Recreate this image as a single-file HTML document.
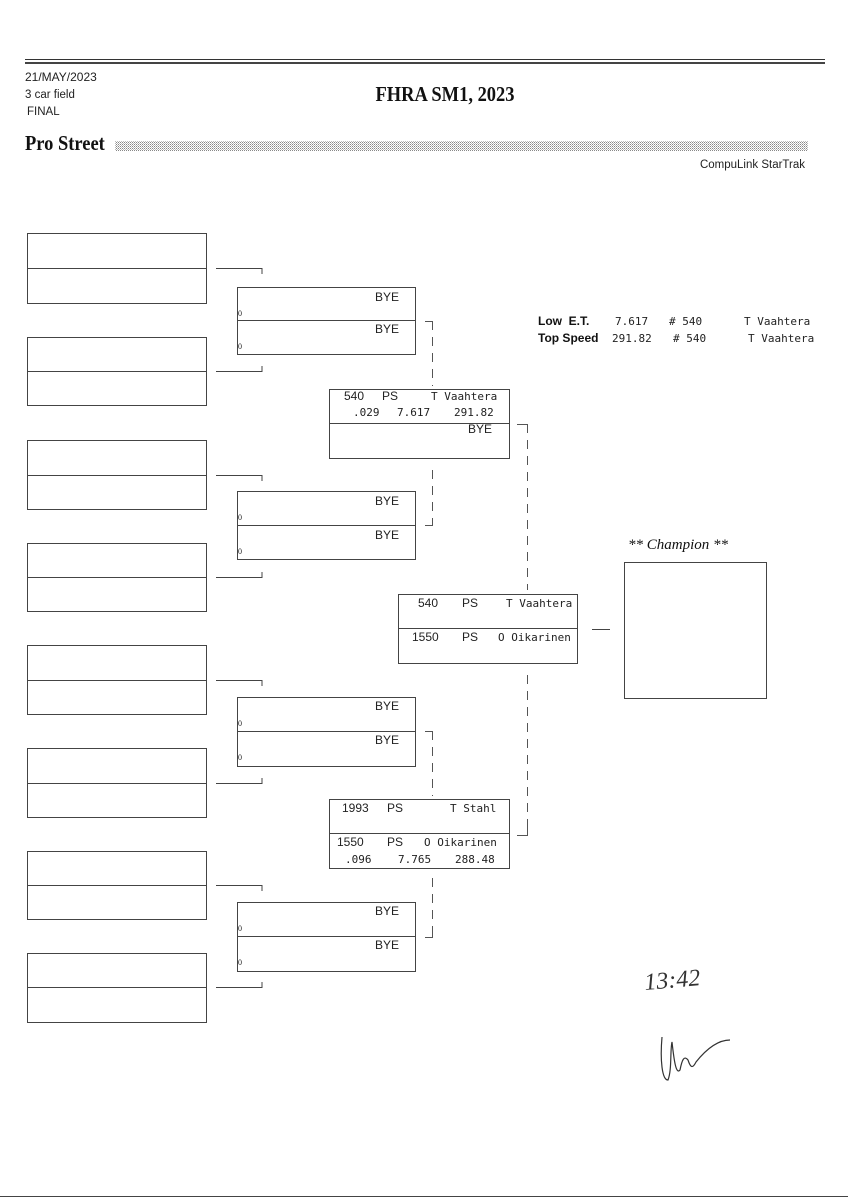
<!DOCTYPE html>
<html><head><meta charset="utf-8"><style>
html,body{margin:0;padding:0;background:#fff;}
svg{display:block;}
.s{font-family:"Liberation Sans Narrow","Liberation Sans",sans-serif;}
.m{font-family:"DejaVu Sans Mono","Liberation Mono",monospace;font-size:11px;fill:#222;}
.n{font-family:"Liberation Sans Narrow","Liberation Sans",sans-serif;font-size:12px;fill:#222;}
.z{font-family:"Liberation Serif",serif;font-size:8px;fill:#222;}
</style></head><body>
<svg width="848" height="1200" viewBox="0 0 848 1200" xmlns="http://www.w3.org/2000/svg">
<defs>
<pattern id="dots" width="2" height="2" patternUnits="userSpaceOnUse"><rect width="1" height="1" fill="#888"/><rect x="1" y="1" width="1" height="1" fill="#bbb"/></pattern>
</defs>
<line x1="25" y1="59.5" x2="825" y2="59.5" stroke="#333" stroke-width="1"/>
<line x1="25" y1="63" x2="825" y2="63" stroke="#444" stroke-width="2"/>
<text x="25" y="81" class="s" font-size="12" fill="#222">21/MAY/2023</text>
<text x="25" y="98" class="s" font-size="11.5" fill="#222">3 car field</text>
<text x="27" y="115" class="s" font-size="11.5" fill="#222">FINAL</text>
<text x="0" y="0" font-family="Liberation Serif,serif" font-weight="bold" font-size="21" text-anchor="middle" fill="#111" transform="translate(445 101) scale(0.88 1)">FHRA SM1, 2023</text>
<text x="0" y="0" font-family="Liberation Serif,serif" font-weight="bold" font-size="21" fill="#111" transform="translate(25 150) scale(0.88 1)">Pro Street</text>
<rect x="115" y="141" width="693" height="10" fill="url(#dots)"/>
<text x="805" y="168" class="s" font-size="11.5" text-anchor="end" fill="#222">CompuLink StarTrak</text>

<g fill="none" stroke="#444" stroke-width="1">
<rect x="27.5" y="233.5" width="179" height="70"/><line x1="27" y1="268.5" x2="206" y2="268.5"/>
<rect x="27.5" y="337.5" width="179" height="68"/><line x1="27" y1="371.5" x2="206" y2="371.5"/>
<rect x="27.5" y="440.5" width="179" height="69"/><line x1="27" y1="475.5" x2="206" y2="475.5"/>
<rect x="27.5" y="543.5" width="179" height="68"/><line x1="27" y1="577.5" x2="206" y2="577.5"/>
<rect x="27.5" y="645.5" width="179" height="69"/><line x1="27" y1="680.5" x2="206" y2="680.5"/>
<rect x="27.5" y="748.5" width="179" height="69"/><line x1="27" y1="783.5" x2="206" y2="783.5"/>
<rect x="27.5" y="851.5" width="179" height="68"/><line x1="27" y1="885.5" x2="206" y2="885.5"/>
<rect x="27.5" y="953.5" width="179" height="69"/><line x1="27" y1="987.5" x2="206" y2="987.5"/>
<path d="M216 268.5H262V274"/><path d="M216 371.5H262V366"/>
<path d="M216 475.5H262V481"/><path d="M216 577.5H262V572"/>
<path d="M216 680.5H262V686"/><path d="M216 783.5H262V778"/>
<path d="M216 885.5H262V891"/><path d="M216 987.5H262V982"/>
<rect x="237.5" y="287.5" width="178" height="67"/><line x1="237" y1="320.5" x2="415" y2="320.5"/>
<rect x="237.5" y="491.5" width="178" height="68"/><line x1="237" y1="525.5" x2="415" y2="525.5"/>
<rect x="237.5" y="697.5" width="178" height="69"/><line x1="237" y1="731.5" x2="415" y2="731.5"/>
<rect x="237.5" y="902.5" width="178" height="69"/><line x1="237" y1="936.5" x2="415" y2="936.5"/>
<rect x="329.5" y="389.5" width="180" height="69"/><line x1="329" y1="423.5" x2="509" y2="423.5"/>
<rect x="329.5" y="799.5" width="180" height="69"/><line x1="329" y1="833.5" x2="509" y2="833.5"/>
<rect x="398.5" y="594.5" width="179" height="69"/><line x1="398" y1="628.5" x2="577" y2="628.5"/>
<line x1="592" y1="629.5" x2="610" y2="629.5"/>
<rect x="624.5" y="562.5" width="142" height="136"/>
</g>
<g fill="none" stroke="#555" stroke-width="1">
<path d="M425 321.5H432.5"/><path d="M432.5 321V386" stroke-dasharray="9,7"/>
<path d="M432.5 470V525.5H425" stroke-dasharray="9,7"/><path d="M425 525.5H432.5V519"/>
<path d="M425 731.5H432.5"/><path d="M432.5 731V796" stroke-dasharray="9,7"/>
<path d="M432.5 878V937" stroke-dasharray="9,7"/><path d="M425 937.5H432.5V931"/>
<path d="M517 424.5H527.5"/><path d="M527.5 424V590" stroke-dasharray="9,7"/>
<path d="M527.5 675V835" stroke-dasharray="9,7"/><path d="M517 835.5H527.5V828"/>
</g>
<g class="n">
<text x="375" y="301">BYE</text><text x="375" y="333">BYE</text>
<text x="375" y="505">BYE</text><text x="375" y="539">BYE</text>
<text x="375" y="710">BYE</text><text x="375" y="744">BYE</text>
<text x="375" y="915">BYE</text><text x="375" y="949">BYE</text>
</g>
<g class="z">
<text x="238" y="316">0</text><text x="238" y="349">0</text>
<text x="238" y="520">0</text><text x="238" y="554">0</text>
<text x="238" y="726">0</text><text x="238" y="760">0</text>
<text x="238" y="931">0</text><text x="238" y="965">0</text>
</g>
<text x="344" y="400" class="n">540</text><text x="382" y="400" class="n">PS</text><text x="431" y="400" class="m">T Vaahtera</text>
<text x="353" y="416" class="m">.029</text><text x="397" y="416" class="m">7.617</text><text x="454" y="416" class="m">291.82</text>
<text x="468" y="433" class="n">BYE</text>
<text x="342" y="812" class="n">1993</text><text x="387" y="812" class="n">PS</text><text x="450" y="812" class="m">T Stahl</text>
<text x="337" y="846" class="n">1550</text><text x="387" y="846" class="n">PS</text><text x="424" y="846" class="m">O Oikarinen</text>
<text x="345" y="863" class="m">.096</text><text x="398" y="863" class="m">7.765</text><text x="455" y="863" class="m">288.48</text>
<text x="418" y="607" class="n">540</text><text x="462" y="607" class="n">PS</text><text x="506" y="607" class="m">T Vaahtera</text>
<text x="412" y="641" class="n">1550</text><text x="462" y="641" class="n">PS</text><text x="498" y="641" class="m">O Oikarinen</text>
<text x="538" y="325" class="s" font-size="12" font-weight="bold" fill="#111">Low&#160;&#160;E.T.</text>
<text x="538" y="342" class="s" font-size="12" font-weight="bold" fill="#111">Top Speed</text>
<text x="615" y="325" class="m">7.617</text><text x="669" y="325" class="m"># 540</text><text x="744" y="325" class="m">T Vaahtera</text>
<text x="612" y="342" class="m">291.82</text><text x="673" y="342" class="m"># 540</text><text x="748" y="342" class="m">T Vaahtera</text>
<text x="628" y="549" font-family="Liberation Serif,serif" font-style="italic" font-size="15" fill="#111">** Champion **</text>
<text x="645" y="990" font-family="Liberation Serif,serif" font-size="24" fill="#333" font-style="italic" transform="rotate(-5 645 990)">13:42</text>
<path d="M662 1037 C660 1060 662 1080 668 1080 C672 1070 670 1050 672 1042 C674 1060 676 1075 680 1070 C682 1060 684 1055 688 1060 C690 1066 692 1070 696 1062 C704 1052 716 1040 730 1040" fill="none" stroke="#333" stroke-width="1.2"/>
<line x1="0" y1="1196.5" x2="848" y2="1196.5" stroke="#444" stroke-width="1"/>
</svg>
</body></html>
